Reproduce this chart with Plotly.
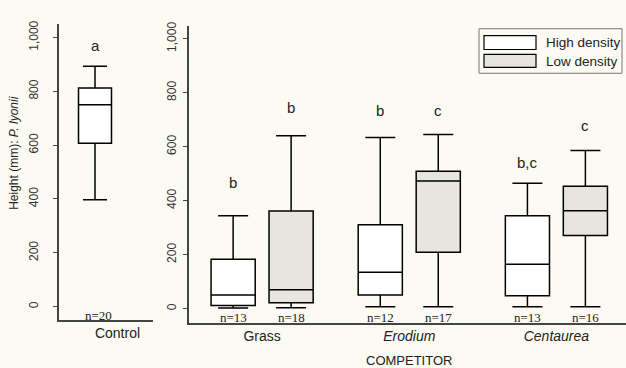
import plotly.graph_objects as go

# ---- data -------------------------------------------------------------
competitors = ["Grass", "Erodium", "Centaurea"]
competitor_labels = ["Grass", "<i>Erodium</i>", "<i>Centaurea</i>"]

# Height (mm) summaries, high-density competitor plots
high_lower = [3, 7, 7]
high_q1 = [12, 51, 48]
high_median = [51, 135, 165]
high_q3 = [183, 311, 344]
high_upper = [344, 634, 465]
high_n = [13, 12, 13]
high_letters = ["b", "b", "b,c"]
high_letter_y = [469, 733, 542]

# Height (mm) summaries, low-density competitor plots
low_lower = [4, 7, 7]
low_q1 = [22, 209, 271]
low_median = [70, 473, 363]
low_q3 = [362, 509, 454]
low_upper = [641, 645, 586]
low_n = [18, 17, 16]
low_letters = ["b", "c", "c"]
low_letter_y = [747, 733, 678]

# Control (no competitor)
control_stats = dict(lower=397, q1=607, median=750, q3=812, upper=893)
control_n = 20
control_letter = "a"
control_letter_y = 970

y_ticks = [0, 200, 400, 600, 800, 1000]
y_ticktext = ["0", "200", "400", "600", "800", "1,000"]

# ---- layout helpers ---------------------------------------------------
W, H = 626, 368
def fx(p):
    return p / W
def fy(p):
    return 1 - p / H

SANS = "Liberation Sans, Arial, sans-serif"
SERIF = "Liberation Serif, Times New Roman, serif"
BG = "#fcfbf3"
LOW_FILL = "#e6e5df"
AXIS_COL = "#444444"
TEXT_COL = "#222222"

offset = 0.197
box_w = 0.30
high_x = [i + 1 - offset for i in range(3)]
low_x = [i + 1 + offset for i in range(3)]
control_x = 0.383

fig = go.Figure()

box_line = dict(color="black", width=1.5)

fig.add_trace(go.Box(
    x=[control_x], lowerfence=[control_stats["lower"]], q1=[control_stats["q1"]],
    median=[control_stats["median"]], q3=[control_stats["q3"]],
    upperfence=[control_stats["upper"]], width=0.351, whiskerwidth=0.73,
    fillcolor="white", line=box_line, boxpoints=False, showlegend=False,
    xaxis="x", yaxis="y", hoverinfo="skip"))

fig.add_trace(go.Box(
    x=high_x, lowerfence=high_lower, q1=high_q1, median=high_median, q3=high_q3,
    upperfence=high_upper, width=box_w, whiskerwidth=0.68, fillcolor="white",
    line=box_line, boxpoints=False, showlegend=False, name="High density",
    xaxis="x2", yaxis="y2", hoverinfo="skip"))

fig.add_trace(go.Box(
    x=low_x, lowerfence=low_lower, q1=low_q1, median=low_median, q3=low_q3,
    upperfence=low_upper, width=box_w, whiskerwidth=0.68, fillcolor=LOW_FILL,
    line=box_line, boxpoints=False, showlegend=False, name="Low density",
    xaxis="x2", yaxis="y2", hoverinfo="skip"))

annotations = []

def letter(x, y, t, xr, yr):
    annotations.append(dict(x=x, y=y, text=t, xref=xr, yref=yr, showarrow=False,
                            font=dict(family=SANS, size=15, color=TEXT_COL),
                            xanchor="center", yanchor="middle"))

def nlabel(x, n, xr, yr, dx=0):
    annotations.append(dict(x=x, y=-33, text=f"n={n}", xref=xr, yref=yr, showarrow=False,
                            xshift=dx, font=dict(family=SERIF, size=13, color=TEXT_COL),
                            xanchor="center", yanchor="middle"))

letter(control_x, control_letter_y, control_letter, "x", "y")
nlabel(control_x, control_n, "x", "y", dx=3)
for i in range(3):
    letter(high_x[i], high_letter_y[i], high_letters[i], "x2", "y2")
    letter(low_x[i], low_letter_y[i], low_letters[i], "x2", "y2")
    nlabel(high_x[i], high_n[i], "x2", "y2")
    nlabel(low_x[i], low_n[i], "x2", "y2")

# axis titles
annotations.append(dict(x=fx(408.5), y=fy(360.5), xref="paper", yref="paper",
                        text="COMPETITOR", showarrow=False,
                        font=dict(family=SANS, size=13, color=TEXT_COL),
                        xanchor="center", yanchor="middle"))
annotations.append(dict(x=fx(14), y=fy(151.5), xref="paper", yref="paper",
                        text="Height (mm): <i>P. lyonii</i>", textangle=-90,
                        showarrow=False, font=dict(family=SANS, size=12, color=TEXT_COL),
                        xanchor="center", yanchor="middle"))

# legend drawn as a framed key
shapes = [
    dict(type="rect", xref="paper", yref="paper", x0=fx(479), x1=fx(622),
         y0=fy(70), y1=fy(25), line=dict(color="#777777", width=1), fillcolor=BG),
    dict(type="rect", xref="paper", yref="paper", x0=fx(484), x1=fx(536),
         y0=fy(46), y1=fy(32), line=dict(color="black", width=1.2), fillcolor="white"),
    dict(type="rect", xref="paper", yref="paper", x0=fx(484), x1=fx(536),
         y0=fy(64), y1=fy(51), line=dict(color="black", width=1.2), fillcolor=LOW_FILL),
]
for label, yy in [("High density", 39), ("Low density", 58)]:
    annotations.append(dict(x=fx(544), y=fy(yy), xref="paper", yref="paper",
                            text=label, showarrow=False, xanchor="left", yanchor="middle",
                            font=dict(family=SANS, size=13.5, color=TEXT_COL)))

yaxis_common = dict(
    tickvals=y_ticks, ticktext=y_ticktext, tickangle=-90, ticks="outside", ticklen=4,
    tickwidth=1, tickcolor=AXIS_COL, showline=True, linecolor=AXIS_COL, linewidth=1.5,
    showgrid=False, zeroline=False,
    tickfont=dict(family=SANS, size=12, color="#333333"),
)
xaxis_common = dict(
    showline=True, linecolor=AXIS_COL, linewidth=1.5, showgrid=False, zeroline=False,
    ticks="", tickfont=dict(family=SANS, size=14, color=TEXT_COL), ticklabelstandoff=0,
)

fig.update_layout(
    width=W, height=H, margin=dict(l=0, r=0, t=0, b=0),
    paper_bgcolor=BG, plot_bgcolor=BG, boxmode="overlay", showlegend=False,
    xaxis=dict(domain=[fx(59), fx(153)], range=[0, 1], tickvals=[0.622],
               ticktext=["Control"], anchor="y", **xaxis_common),
    yaxis=dict(domain=[fy(319), fy(20)], range=[-48, 1051], anchor="x",
               ticklabelstandoff=10, **yaxis_common),
    xaxis2=dict(domain=[fx(189), 1], range=[0.503, 3.473], tickvals=[1, 2, 3],
                ticktext=competitor_labels, anchor="y2", **xaxis_common),
    yaxis2=dict(domain=[fy(322), fy(22)], range=[-51, 1048], anchor="x2",
                ticklabelstandoff=2, **yaxis_common),
    annotations=annotations, shapes=shapes,
)

fig.write_html("out.html")
